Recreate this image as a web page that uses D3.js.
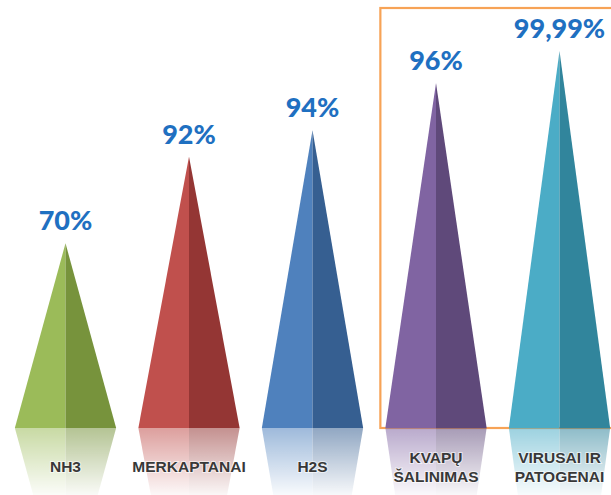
<!DOCTYPE html>
<html>
<head>
<meta charset="utf-8">
<script src="https://cdn.jsdelivr.net/npm/d3@7"></script>
<style>
  body { margin: 0; background: #fff; }
  svg { display: block; }
</style>
</head>
<body>
<div id="chart"></div>
<script>
// data
const categories = ["NH3", "MERKAPTANAI", "H2S", "KVAPŲ ŠALINIMAS", "VIRUSAI IR PATOGENAI"];
const labelLines = [["NH3"], ["MERKAPTANAI"], ["H2S"], ["KVAPŲ", "ŠALINIMAS"], ["VIRUSAI IR", "PATOGENAI"]];
const valueLabels = ["70%", "92%", "94%", "96%", "99,99%"];
// pyramid height as drawn in the infographic (% of the tallest one)
const pyramidHeight = [49, 72, 79, 91.5, 100];
const lightColors = ["#9bbb59", "#c0504d", "#4f81bd", "#8064a2", "#4bacc6"];
const darkColors = ["#77933c", "#943634", "#365f91", "#5f497a", "#31859c"];
const highlighted = ["KVAPŲ ŠALINIMAS", "VIRUSAI IR PATOGENAI"];

const width = 611, height = 495;
const baseY = 428;

const svg = d3.select("#chart")
    .append("svg")
    .attr("width", width)
    .attr("height", height);

const x = d3.scalePoint()
    .domain(categories)
    .range([65.5, 559.5]);

const y = d3.scaleLinear()
    .domain([0, 100])
    .range([baseY, 51]);

const half = x.step() * 0.41;

const data = categories.map((c, i) => ({
    cat: c,
    lines: labelLines[i],
    label: valueLabels[i],
    h: pyramidHeight[i],
    light: lightColors[i],
    dark: darkColors[i]
}));

// fade for the reflection
const defs = svg.append("defs");
const grad = defs.append("linearGradient")
    .attr("id", "fade")
    .attr("gradientUnits", "userSpaceOnUse")
    .attr("x1", 0).attr("y1", baseY)
    .attr("x2", 0).attr("y2", height);
grad.append("stop").attr("offset", 0).attr("stop-color", "#fff").attr("stop-opacity", 0.55);
grad.append("stop").attr("offset", 1).attr("stop-color", "#fff").attr("stop-opacity", 0.04);
defs.append("mask")
    .attr("id", "reflect")
    .attr("maskUnits", "userSpaceOnUse")
    .attr("x", 0).attr("y", baseY).attr("width", width).attr("height", height - baseY)
    .append("rect")
    .attr("x", 0).attr("y", baseY)
    .attr("width", width).attr("height", height - baseY)
    .attr("fill", "url(#fade)");

// highlight frame round the last two
const hx = x(highlighted[0]) - half - 5;
svg.append("rect")
    .attr("x", hx)
    .attr("y", 8)
    .attr("width", width - hx + 10)
    .attr("height", baseY - 8)
    .attr("fill", "none")
    .attr("stroke", "#f7a356")
    .attr("stroke-width", 2.2);

const g = svg.selectAll(".pyr")
    .data(data)
    .enter()
    .append("g")
    .attr("class", "pyr");

// mirrored reflection
const refl = g.append("g").attr("mask", "url(#reflect)");
refl.append("path")
    .attr("d", d => {
        const cx = x(d.cat), ry = 2 * baseY - y(d.h);
        return `M${cx - half},${baseY}L${cx},${baseY}L${cx},${ry}Z`;
    })
    .attr("fill", d => d.light);
refl.append("path")
    .attr("d", d => {
        const cx = x(d.cat), ry = 2 * baseY - y(d.h);
        return `M${cx},${baseY}L${cx + half},${baseY}L${cx},${ry}Z`;
    })
    .attr("fill", d => d.dark);

// the two faces of each pyramid
g.append("path")
    .attr("d", d => {
        const cx = x(d.cat);
        return `M${cx - half},${baseY}L${cx},${baseY}L${cx},${y(d.h)}Z`;
    })
    .attr("fill", d => d.light);
g.append("path")
    .attr("d", d => {
        const cx = x(d.cat);
        return `M${cx},${baseY}L${cx + half},${baseY}L${cx},${y(d.h)}Z`;
    })
    .attr("fill", d => d.dark);

// percentages on top
g.append("text")
    .attr("x", d => x(d.cat))
    .attr("y", d => y(d.h) - 13)
    .attr("text-anchor", "middle")
    .style("font-family", "Lato, sans-serif")
    .style("font-weight", 900)
    .style("font-size", "27px")
    .style("fill", "#1f70c1")
    .text(d => d.label);

// category names under the base
g.append("text")
    .attr("text-anchor", "middle")
    .style("font-family", "'Liberation Sans', Arial, sans-serif")
    .style("font-weight", "bold")
    .style("font-size", "15.5px")
    .style("fill", "#383838")
    .style("paint-order", "stroke")
    .style("stroke", "rgba(255,255,255,0.6)")
    .style("stroke-width", 2)
    .selectAll("tspan")
    .data(d => d.lines.map((l, j) => ({l, j, n: d.lines.length, cx: x(d.cat)})))
    .enter()
    .append("tspan")
    .attr("x", d => d.cx)
    .attr("y", d => 467 + (d.j - (d.n - 1) / 2) * 19)
    .attr("dy", "0.35em")
    .text(d => d.l);
</script>
</body>
</html>
